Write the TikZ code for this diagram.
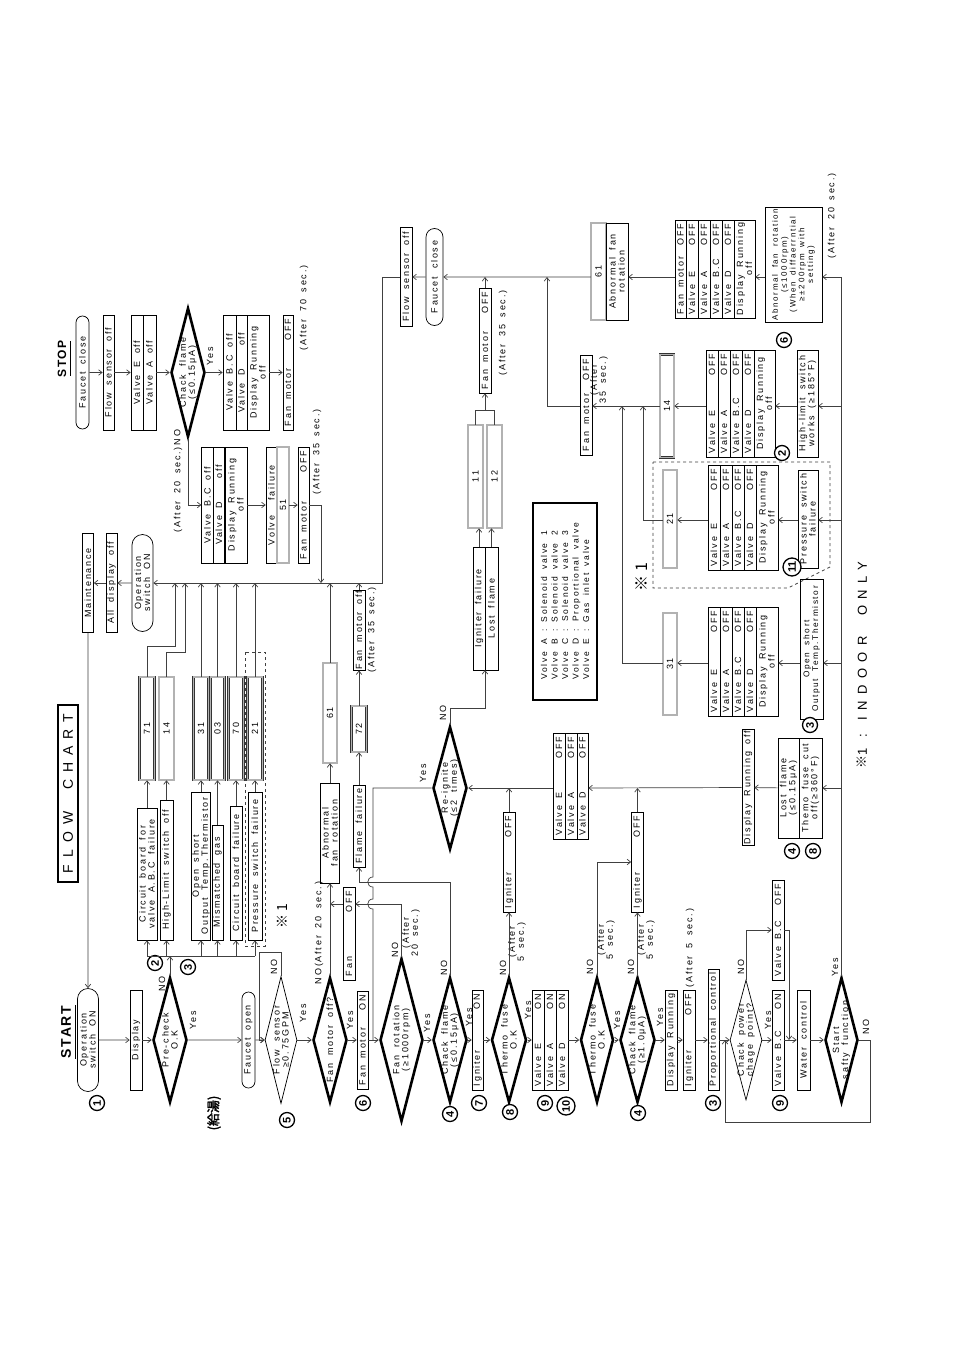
\documentclass[tikz,border=0pt]{standalone}
\usepackage{fontspec}
\setmainfont{Liberation Sans}[LetterSpace=20,WordSpace=1.8]
\newfontfamily\plainsans{Liberation Sans}
\newfontfamily\titlesans{Liberation Sans}[LetterSpace=12]
\newfontfamily\widesans{Liberation Sans}[LetterSpace=50]
\newfontfamily\cjk{Noto Sans CJK JP}
\newfontfamily\cjkb{Noto Sans CJK JP}[FakeBold=2]
\usetikzlibrary{arrows.meta,shapes.geometric,shapes.misc}
\newcommand\fs{\fontsize{9}{9}\selectfont}
\newcommand\lr[3]{\hbox to #1pt{#2\hfill #3}}
\tikzset{
 cline/.style={line width=0.7pt, draw=black!75},
 arr/.style={cline, -{Straight Barb[length=3.5pt,width=5.5pt]}},
 bx/.style={draw, line width=0.7pt, rotate=90, inner sep=1pt, align=center, font=\fs},
 st/.style={bx, rounded rectangle},
 eb/.style={draw=black!80, rotate=90, line width=0.5pt, double=black!30, double distance=1.4pt, inner sep=0pt, font=\fs},
 dia/.style={draw, diamond, rotate=90, line width=2.6pt, inner sep=0pt},
 diat/.style={draw, diamond, rotate=90, line width=0.7pt, inner sep=0pt},
 lab/.style={rotate=90, inner sep=0pt, align=center, font=\fs},
 cn/.style={circle, draw, line width=1.3pt, rotate=90, inner sep=0pt, minimum size=15pt, fill=white, font=\plainsans\bfseries\fontsize{11}{11}\selectfont},
}
\begin{document}
\begin{tikzpicture}[x=1pt,y=-1pt]
\fill[white] (0,0) rectangle (954,1351);
\useasboundingbox (0,0) rectangle (954,1351);
\coordinate (bus) at (382,583);
\coordinate (y277) at (382,277);
\coordinate (y406) at (600,406);
\coordinate (y520) at (600,520);
\coordinate (y663) at (600,663);
\coordinate (dL) at (147,956);
\coordinate (b410) at (485,410);

% ================= START column =================
\node[lab, font=\titlesans\bfseries\fontsize{14}{14}\selectfont] (startT) at (66,1032) {START};
\draw[line width=1.4pt] (75.5,1005) -- (75.5,1059);
\node[st, minimum height=21, minimum width=105] (opS) at (88,1040) {Operation\\switch ON};
\node[cn] (c1) at (97,1103) {1};
\node[bx, minimum height=12, minimum width=100] (disp) at (136,1040) {Display};
\node[dia, minimum width=125, minimum height=34] (pre) at (170,1040) {};
\node[lab] (preT) at (pre) {Pre-check\\O.K};
\node[lab] (preY) at (193,1020) {Yes};
\node[lab] (preN) at (162,984) {NO};
\node[cn] (c2) at (155,963) {2};
\node[cn] (c3) at (188,967) {3};
\node[st, minimum height=13, minimum width=98] (fo) at (248.5,1040) {Faucet open};
\node[lab, font=\cjkb\fontsize{13}{13}\selectfont] (kyu) at (214,1113) {(給湯)};
\node[diat, minimum width=127, minimum height=32] (fs) at (281,1040) {};
\node[lab] (fsT) at (fs) {Flow sensor\\≥0.75GPM};
\node[lab] (fsN) at (274,967) {NO};
\node[lab] (fsY) at (303,1013) {Yes};
\node[cn] (c5) at (287,1120) {5};
\node[dia, minimum width=125, minimum height=34] (fmo) at (330,1040) {};
\node[lab] (fmoT) at (fmo) {Fan motor off?};
\node[lab] (fmoY) at (350,1020) {Yes};
\node[lab] (fmoN) at (319,933) {NO(After 20 sec.)};
\node[cn] (c6) at (363,1103) {6};
\node[bx, minimum height=11, minimum width=98] (fmon) at (362.5,1040) {\lr{90}{Fan motor}{ON}};
\node[dia, minimum width=163, minimum height=43] (frot) at (401.5,1040) {};
\node[lab] (frotT) at (frot) {Fan rotation\\(≥1000rpm)};
\node[lab] (frotY) at (427,1023) {Yes};
\node[lab] (frotN) at (395,950) {NO};
\node[lab] (frotA) at (411,933) {(After\\20 sec.)};
\node[dia, minimum width=125, minimum height=34] (cf1) at (450,1040) {};
\node[lab] (cf1T) at (cf1) {Chack flame\\(≤0.15μA)};
\node[lab] (cf1Y) at (469,1017) {Yes};
\node[lab] (cf1N) at (444,968) {NO};
\node[cn] (c4a) at (450,1114) {4};
\node[bx, minimum height=11, minimum width=100] (igon) at (477.5,1040) {\lr{92}{Igniter}{ON}};
\node[cn] (c7) at (479,1103) {7};
\node[dia, minimum width=125, minimum height=35] (tf1) at (509,1040) {};
\node[lab] (tf1T) at (tf1) {Thermo fuse\\O.K};
\node[lab] (tf1Y) at (528,1010) {Yes};
\node[lab] (tf1N) at (503,968) {NO};
\node[lab] (tf1A) at (517,942) {(After\\5 sec.)};
\node[cn] (c8a) at (510,1112) {8};
\node[bx, minimum height=12, minimum width=100] (von1) at (538,1040) {\lr{92}{Valve E}{ON}};
\node[bx, minimum height=12, minimum width=100] (von2) at (550,1040) {\lr{92}{Valve A}{ON}};
\node[bx, minimum height=12, minimum width=100] (von3) at (562,1040) {\lr{92}{Valve D}{ON}};
\node[cn] (c9a) at (545,1103) {9};
\node[cn, minimum size=18pt] (c10) at (566,1106) {10};
\node[dia, minimum width=125, minimum height=33] (tf2) at (597,1040) {};
\node[lab] (tf2T) at (tf2) {Thermo fuse\\O.K};
\node[lab] (tf2Y) at (617,1020) {Yes};
\node[lab] (tf2N) at (590,967) {NO};
\node[lab] (tf2A) at (606,940) {(After\\5 sec.)};
\node[dia, minimum width=125, minimum height=35] (cf2) at (637.5,1040) {};
\node[lab] (cf2T) at (cf2) {Chack flame\\(≥1.0μA)};
\node[lab] (cf2Y) at (660,1017) {Yes};
\node[lab] (cf2N) at (631,967) {NO};
\node[lab] (cf2A) at (646,940) {(After\\5 sec.)};
\node[cn] (c4b) at (638,1113) {4};
\node[bx, minimum height=12, minimum width=100] (dr) at (671,1040) {Display Running};
\node[bx, minimum height=12, minimum width=100] (igoff) at (689,1040) {\lr{92}{Igniter}{OFF}};
\node[lab] (igoffA) at (690,948) {(After 5 sec.)};
\node[bx, minimum height=11, minimum width=121] (prop) at (713.5,1029.5) {Proportional control};
\node[cn] (c3b) at (713,1103) {3};
\node[diat, minimum width=120, minimum height=32] (cp) at (746,1040) {};
\node[lab] (cpT) at (cp) {Chack power\\chage point?};
\node[lab] (cpN) at (741,967) {NO};
\node[lab] (cpY) at (768,1020) {Yes};
\node[bx, minimum height=12, minimum width=100] (vbcoff) at (778,930) {\lr{92}{Valve B.C}{OFF}};
\node[bx, minimum height=12, minimum width=100] (vbcon) at (778,1040) {\lr{92}{Valve B.C}{ON}};
\node[cn] (c9b) at (780,1103) {9};
\node[bx, minimum height=13, minimum width=100] (water) at (803.5,1040) {Water control};
\node[dia, minimum width=125, minimum height=33] (ss) at (841.5,1040) {};
\node[lab] (ssT) at (ss) {Start\\safty function};
\node[lab] (ssY) at (835,967) {Yes};
\node[lab] (ssN) at (866,1027) {NO};

% main flow
\draw[arr] (opS) -- (disp);
\draw[arr] (disp) -- (pre);
\draw[arr] (pre) -- (fo);
\draw[arr] (fo) -- (fs);
\draw[arr] (fs) -- (fmo);
\draw[arr] (fmo) -- (fmon);
\draw[arr] (fmon) -- (frot);
\draw[arr] (frot) -- (cf1);
\draw[arr] (cf1) -- (igon);
\draw[arr] (igon) -- (tf1);
\draw[arr] (tf1) -- (von1);
\draw[arr] (von3) -- (tf2);
\draw[arr] (tf2) -- (cf2);
\draw[arr] (cf2) -- (dr);
\draw[arr] (dr) -- (igoff);
\draw[arr] (igoff) -- (prop.north |- igoff);
\draw[arr] (prop.south |- cp) -- (cp);
\draw[arr] (cp) -- (vbcon);
\draw[arr] (vbcon) -- (water);
\draw[arr] (water) -- (ss);
\draw[arr] (fs.east) -- (281,952) -| (259,1040) -- (fs.north);
\draw[arr] (cp.east) |- (vbcoff);
\draw[arr] (vbcoff.south) -| (789,1040);
\draw[arr] (ss.south) -- (870,1040) |- (725,1122) -- (725,1040);
\draw[cline] (ss.east) -- (841.5,277);

% ================= problem boxes (pre-check NO) =================
\draw[cline] (147,956) -- (255,956);
\draw[arr] (pre.east) -- (pre.east |- dL);
\node[bx, minimum height=20, minimum width=132] (p71) at (147,874) {Circuit board for\\valve A.B.C failure};
\node[bx, minimum height=13, minimum width=140] (p14) at (166.5,870) {High-Limit switch off};
\node[bx, minimum height=18, minimum width=148] (p31) at (201,866) {Open short\\Output Temp.Thermistor};
\node[bx, minimum height=11, minimum width=115] (p03) at (217.5,882.5) {Mismatched gas};
\node[bx, minimum height=12, minimum width=134] (p70) at (236,873) {Circuit board failure};
\node[bx, minimum height=14, minimum width=148] (p21) at (255,866) {Pressure switch failure};
\node[eb, minimum height=15, minimum width=103] (e71) at (147,728.5) {71};
\node[eb, minimum height=15, minimum width=103] (e14) at (166.5,728.5) {14};
\node[eb, minimum height=15, minimum width=103] (e31) at (201,728.5) {31};
\node[eb, minimum height=14, minimum width=103] (e03) at (217.5,728.5) {03};
\node[eb, minimum height=15, minimum width=103] (e70) at (236,728.5) {70};
\node[eb, minimum height=15, minimum width=103] (e21) at (255,728.5) {21};
\foreach \n in {p71,p14,p31,p03,p70,p21}{\draw[arr] (\n |- dL) -- (\n);}
\draw[arr] (p71) -- (e71);
\draw[arr] (p14) -- (e14);
\draw[arr] (p31) -- (e31);
\draw[arr] (p03) -- (e03);
\draw[arr] (p70) -- (e70);
\draw[arr] (p21) -- (e21);
\draw[arr] (e71.east) -- ++(0,-30) -| (175,583);
\draw[arr] (e14.east) -- ++(0,-24) -| (185,583);
\draw[arr] (e31) -- (e31 |- bus);
\draw[arr] (e03) -- (e03 |- bus);
\draw[arr] (e70) -- (e70 |- bus);
\draw[arr] (e21) -- (e21 |- bus);
\draw[dashed, cline] (245,652) rectangle (265,946);
\node[lab, font=\cjk\fontsize{14}{14}\selectfont] (ast1) at (282,916) {※ 1};

% ================= upper-left return =================
\node[st, minimum height=21, minimum width=99] (opS2) at (142.5,583) {Operation\\switch ON};
\node[bx, minimum height=11, minimum width=99] (ado) at (111.5,583) {All display off};
\node[bx, minimum height=11, minimum width=99] (mnt) at (88,583) {Maintenance};
\draw[arr] (opS2) -- (ado);
\draw[arr] (ado) -- (mnt);
\draw[arr] (mnt) -- (opS);
\node[draw, line width=2pt, rotate=90, minimum width=177, minimum height=20, inner sep=0pt, font=\widesans\fontsize{14}{14}\selectfont] (fct) at (68,793.5) {FLOW\ \ CHART};

% ================= STOP column =================
\node[lab, font=\titlesans\bfseries\fontsize{12}{12}\selectfont] (stopT) at (62,359) {STOP};
\draw[line width=1.3pt] (70.5,341) -- (70.5,376);
\node[st, minimum height=13, minimum width=115] (fcS) at (82.5,372.5) {Faucet close};
\node[bx, minimum height=11, minimum width=115] (fsoS) at (108.5,372.5) {Flow sensor off};
\node[bx, minimum height=12, minimum width=115] (vEA1) at (137,372.5) {Valve E off};
\node[bx, minimum height=13, minimum width=115] (vEA2) at (149.5,372.5) {Valve A off};
\node[dia, minimum width=129, minimum height=34] (cfS) at (188,372.5) {};
\node[lab] (cfST) at (cfS) {Chack flame\\(≤0.15μA)};
\node[lab] (cfSY) at (210,356) {Yes};
\node[bx, minimum height=13, minimum width=115] (vB1) at (229.5,372.5) {Valve B.C off};
\node[bx, minimum height=11, minimum width=115] (vB2) at (241.5,372.5) {Valve D\ \ \ off};
\node[bx, minimum height=22, minimum width=115] (vB3) at (258,372.5) {Display Running\\off};
\node[bx, minimum height=10, minimum width=115] (fmS) at (288,372.5) {\lr{107}{Fan motor}{OFF}};
\node[lab] (a70) at (304,308) {(After 70 sec.)};
\draw[arr] (fcS) -- (fsoS);
\draw[arr] (fsoS) -- (vEA1);
\draw[arr] (vEA2) -- (cfS);
\draw[arr] (cfS) -- (vB1);
\draw[arr] (vB3) -- (fmS);
\node[lab] (a20N) at (178,481) {(After 20 sec.)NO};
\node[bx, minimum height=11.5, minimum width=116] (vC1) at (207.5,505) {Valve B.C off};
\node[bx, minimum height=11.5, minimum width=116] (vC2) at (219,505) {Valve D\ \ \ off};
\node[bx, minimum height=22, minimum width=116] (vC3) at (236,505) {Display Running\\off};
\node[bx, minimum height=11, minimum width=116] (vf) at (271.5,505) {Volve\ \ failure};
\node[eb, minimum height=12, minimum width=116] (e51) at (283,505) {51};
\node[bx, minimum height=11, minimum width=116] (fm35) at (303.5,505) {\lr{108}{Fan motor}{OFF}};
\node[lab] (a35a) at (317,452) {(After 35 sec.)};
\draw[arr] (cfS.west) |- (vC1);
\draw[arr] (vC3) -- (vf);
\draw[arr] (e51) -- (fm35);
\draw[arr] (fm35) -- (321,505) -- (321,583);

% ================= middle failure paths =================
\node[bx, minimum height=19, minimum width=100] (abn) at (330,833) {Abnormal\\fan rotation};
\node[eb, minimum height=14, minimum width=100] (e61) at (330,713) {61};
\node[bx, minimum height=12, minimum width=93] (fanoff) at (349,933.5) {\lr{85}{Fan}{OFF}};
\node[bx, minimum height=12, minimum width=82] (ff) at (359,826) {Flame failure};
\node[eb, minimum height=15, minimum width=46] (e72) at (359,729) {72};
\node[bx, minimum height=12, minimum width=64] (fmoff) at (359,630) {Fan motor off};
\node[lab] (fmoffA) at (372,630) {(After 35 sec.)};
\draw[arr] (fmo.east) -- (abn);
\draw[arr] (abn) -- (e61);
\draw[arr] (e61) -- (e61 |- bus);
\draw[arr] (fanoff.north |- 0,904) -- (330,904);
\draw[arr] (frot.east) |- (fanoff.south |- 0,904);
\draw[arr] (cf1.east) |- (359,882) -- (ff);
\draw[arr] (ff) -- (e72);
\draw[arr] (e72) -- (fmoff);
\draw[arr] (fmoff) -- (fmoff |- bus);
\node[dia, minimum width=123, minimum height=34] (rei) at (450,788) {};
\node[lab] (reiT) at (rei) {Re-ignite\\(≤2 times)};
\node[lab] (reiY) at (423,773) {Yes};
\node[lab] (reiN) at (443,713) {NO};
\draw[cline] (rei.north) -- (373,788) -- (373,877) .. controls (366,877) and (366,887) .. (373,887) -- (373,899) .. controls (366,899) and (366,909) .. (373,909) -- (373,1040);
\node[bx, minimum height=12, minimum width=123] (igf1) at (479,608.5) {Igniter failure};
\node[bx, minimum height=13, minimum width=123] (igf2) at (491.5,608.5) {Lost flame};
\node[eb, minimum height=15, minimum width=103] (e11) at (475.5,476.5) {11};
\node[eb, minimum height=15, minimum width=103] (e12) at (494.5,476.5) {12};
\draw[arr] (rei.east) -- (450,708) -| (485,670);
\draw[arr] (igf1.east) -- (igf1.east |- e11.west);
\draw[arr] (igf2.east) -- (igf2.east |- e12.west);
\node[bx, minimum height=12, minimum width=105] (fmt) at (485,340.5) {\lr{97}{Fan motor}{OFF}};
\node[lab] (fmtA) at (503,333) {(After 35 sec.)};
\draw[cline] (e11.east) -- (e11.east |- b410) -- (e12.east |- b410) -- (e12.east);
\draw[arr] (b410) -- (fmt);
\draw[arr] (fmt) -- (fmt |- y277);
\node[bx, minimum height=12, minimum width=106] (vof1) at (559,786) {\lr{98}{Valve E}{OFF}};
\node[bx, minimum height=12, minimum width=106] (vof2) at (571,786) {\lr{98}{Valve A}{OFF}};
\node[bx, minimum height=11, minimum width=106] (vof3) at (582.5,786) {\lr{98}{Valve D}{OFF}};
\node[bx, minimum height=12, minimum width=100] (ig1) at (509,862) {\lr{92}{Igniter}{OFF}};
\node[bx, minimum height=12, minimum width=100] (ig2) at (637.5,862) {\lr{92}{Igniter}{OFF}};
\node[bx, minimum height=12, minimum width=115] (dro) at (748,787.5) {Display Running off};
\node[bx, minimum height=21, minimum width=100] (lf1) at (788.5,788) {Lost flame\\(≤0.15μA)};
\node[bx, minimum height=23, minimum width=100] (lf2) at (810.5,788) {Themo fuse cut\\off(≥360°F)};
\node[cn] (c4c) at (792,851) {4};
\node[cn] (c8b) at (813,851) {8};
\draw[arr] (tf1.east) -- (ig1);
\draw[arr] (tf2.east) |- (ig2);
\draw[arr] (cf2.east) -- (ig2);
\draw[arr] (ig1) -- (ig1 |- rei);
\draw[arr] (ig2) -- (ig2 |- rei);
\draw[arr] (841.5,788) -- (lf2);
\draw[arr] (lf1) -- (dro);
\draw[arr] (dro) -- (vof3.south |- rei);
\draw[arr] (vof1.north |- rei) -- (rei);

\node[draw, line width=2pt, rotate=90, minimum width=197, minimum height=64, align=left, inner sep=4pt, font=\fontsize{8.5}{10.5}\selectfont] (leg) at (565,601.5) {Volve A : Solenoid valve 1\\Volve B : Solenoid valve 2\\Volve C : Solenoid valve 3\\Volve D : Proportional valve\\Volve E : Gas inlet valve};

% ================= top return line =================
\node[st, minimum height=17, minimum width=99] (fc2) at (434.5,277) {Faucet close};
\node[bx, minimum height=12, minimum width=99] (fso) at (406,277) {Flow sensor off};
\node[eb, minimum height=15, minimum width=97] (e61r) at (598.5,271.5) {61};
\node[bx, minimum height=22, minimum width=97] (abt) at (617,271.5) {Abnormal fan\\rotation};
\draw[arr] (e61r.north |- y277) -- (fc2);
\draw[arr] (fc2) -- (fso);
\draw[arr] (fso) -- (382,277) |- (opS2);

% ================= right column =================
\node[lab] (a20r) at (832,216) {(After 20 sec.)};
\node[bx, minimum height=57, minimum width=115, font=\fontsize{8}{8.8}\selectfont] (abr) at (793.5,264.5) {Abnormal fan rotation\\(≤1000rpm)\\(When diffaerrntial\\≥±200rpm with\\setting)};
\node[cn] (c6b) at (784,340) {6};
\node[bx, minimum height=11, minimum width=98] (va1) at (680.5,269) {\lr{90}{Fan motor}{OFF}};
\node[bx, minimum height=12, minimum width=98] (va2) at (692,269) {\lr{90}{Valve E}{OFF}};
\node[bx, minimum height=12, minimum width=98] (va3) at (704,269) {\lr{90}{Valve A}{OFF}};
\node[bx, minimum height=12, minimum width=98] (va4) at (716,269) {\lr{90}{Valve B.C}{OFF}};
\node[bx, minimum height=12, minimum width=98] (va5) at (728,269) {\lr{90}{Valve D}{OFF}};
\node[bx, minimum height=21, minimum width=98] (va6) at (744.5,269) {Display Running\\off};
\draw[arr] (841.5,277) -- (abr.south |- y277);
\draw[arr] (abr.north |- y277) -- (va6.south |- y277);
\draw[arr] (va1.north |- y277) -- (abt.south |- y277);

\node[bx, minimum height=12, minimum width=100] (fmr) at (586,405) {\lr{92}{Fan motor}{OFF}};
\node[lab] (fmrA) at (599,380) {(After\\35 sec.)};
\node[eb, minimum height=14, minimum width=103] (e14r) at (667,406) {14};
\node[bx, minimum height=12, minimum width=107] (vh1) at (712,403.5) {\lr{99}{Valve E}{OFF}};
\node[bx, minimum height=12, minimum width=107] (vh2) at (724,403.5) {\lr{99}{Valve A}{OFF}};
\node[bx, minimum height=12, minimum width=107] (vh3) at (736,403.5) {\lr{99}{Valve B.C}{OFF}};
\node[bx, minimum height=12, minimum width=107] (vh4) at (748,403.5) {\lr{99}{Valve D}{OFF}};
\node[bx, minimum height=21, minimum width=107] (vh5) at (764.5,403.5) {Display Running\\off};
\node[bx, minimum height=21, minimum width=107] (hl) at (807.5,403.5) {High-limit switch\\works (≥185°F)};
\node[cn] (c2b) at (782,453) {2};
\draw[arr] (841.5,406) -- (hl.south |- y406);
\draw[arr] (hl.north |- y406) -- (vh5.south |- y406);
\draw[arr] (vh1.north |- y406) -- (e14r);
\draw[arr] (e14r) -- (fmr.south |- y406);
\draw[arr] (fmr.north |- y406) -- (547,406) -- (547,277);

\draw[dashed, cline] (653,462) -- (830,462) -- (830,567) -- (788,588) -- (653,588) -- cycle;
\node[eb, minimum height=14, minimum width=98] (e21r) at (670,519) {21};
\node[bx, minimum height=12, minimum width=105] (vp1) at (714,517.5) {\lr{97}{Valve E}{OFF}};
\node[bx, minimum height=12, minimum width=105] (vp2) at (726,517.5) {\lr{97}{Valve A}{OFF}};
\node[bx, minimum height=12, minimum width=105] (vp3) at (738,517.5) {\lr{97}{Valve B.C}{OFF}};
\node[bx, minimum height=12, minimum width=105] (vp4) at (750,517.5) {\lr{97}{Valve D}{OFF}};
\node[bx, minimum height=22, minimum width=105] (vp5) at (767,517.5) {Display Running\\off};
\node[bx, minimum height=20, minimum width=98] (ps) at (808,519) {Pressure switch\\failure};
\node[cn, minimum size=18pt] (c11) at (792,567) {11};
\node[lab, font=\cjk\fontsize{16}{16}\selectfont] (ast2) at (642,577) {※ 1};
\draw[arr] (841.5,520) -- (ps.south |- y520);
\draw[arr] (ps.north |- y520) -- (vp5.south |- y520);
\draw[arr] (vp1.north |- y520) -- (e21r.south |- y520);
\draw[arr] (e21r.north |- y520) -- (643,520) -- (643,406);

\node[eb, minimum height=14, minimum width=102] (e31r) at (670,664) {31};
\node[bx, minimum height=12, minimum width=109] (vo1) at (714,661.5) {\lr{101}{Valve E}{OFF}};
\node[bx, minimum height=12, minimum width=109] (vo2) at (726,661.5) {\lr{101}{Valve A}{OFF}};
\node[bx, minimum height=12, minimum width=109] (vo3) at (738,661.5) {\lr{101}{Valve B.C}{OFF}};
\node[bx, minimum height=12, minimum width=109] (vo4) at (750,661.5) {\lr{101}{Valve D}{OFF}};
\node[bx, minimum height=22, minimum width=109] (vo5) at (767,661.5) {Display Running\\off};
\node[bx, minimum height=23, minimum width=140, font=\fontsize{8.3}{8.8}\selectfont] (os) at (811.5,649) {Open short\\Output Temp.Thermistor};
\node[cn] (c3c) at (810,725) {3};
\draw[arr] (841.5,663) -- (os.south |- y663);
\draw[arr] (os.north |- y663) -- (vo5.south |- y663);
\draw[arr] (vo1.north |- y663) -- (e31r.south |- y663);
\draw[arr] (e31r.north |- y663) -- (622,663) -- (622,406);

\node[lab, font=\widesans\fontsize{13}{13}\selectfont] (indoor) at (862,665) {{\cjk ※}1 : INDOOR\ \ ONLY};
\end{tikzpicture}
\end{document}
